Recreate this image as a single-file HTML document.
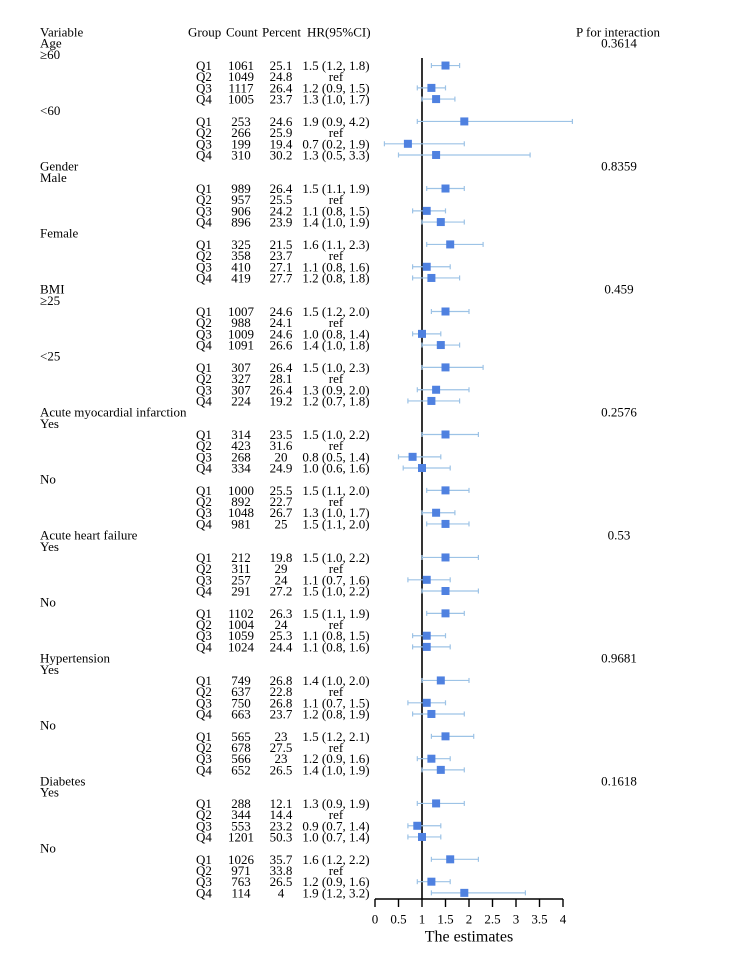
<!DOCTYPE html>
<html><head><meta charset="utf-8"><style>
html,body{margin:0;padding:0;background:#fff;}
svg{display:block;font-family:"Liberation Serif",serif;}
</style></head><body>
<svg id="chart" width="744" height="976" viewBox="0 0 744 976" xmlns="http://www.w3.org/2000/svg"></svg>
<script>
const variables = ["Age","Gender","BMI","Acute myocardial infarction","Acute heart failure","Hypertension","Diabetes"];
const subgroups = [["≥60","<60"],["Male","Female"],["≥25","<25"],["Yes","No"],["Yes","No"],["Yes","No"],["Yes","No"]];
const pValues = ["0.3614","0.8359","0.459","0.2576","0.53","0.9681","0.1618"];
const groups = ["Q1","Q2","Q3","Q4"];
const counts = [1061,1049,1117,1005, 253,266,199,310, 989,957,906,896, 325,358,410,419, 1007,988,1009,1091, 307,327,307,224, 314,423,268,334, 1000,892,1048,981, 212,311,257,291, 1102,1004,1059,1024, 749,637,750,663, 565,678,566,652, 288,344,553,1201, 1026,971,763,114];
const percents = ["25.1","24.8","26.4","23.7","24.6","25.9","19.4","30.2","26.4","25.5","24.2","23.9","21.5","23.7","27.1","27.7","24.6","24.1","24.6","26.6","26.4","28.1","26.4","19.2","23.5","31.6","20","24.9","25.5","22.7","26.7","25","19.8","29","24","27.2","26.3","24","25.3","24.4","26.8","22.8","26.8","23.7","23","27.5","23","26.5","12.1","14.4","23.2","50.3","35.7","33.8","26.5","4"];
const hr =    [1.5,null,1.2,1.3, 1.9,null,0.7,1.3, 1.5,null,1.1,1.4, 1.6,null,1.1,1.2, 1.5,null,1.0,1.4, 1.5,null,1.3,1.2, 1.5,null,0.8,1.0, 1.5,null,1.3,1.5, 1.5,null,1.1,1.5, 1.5,null,1.1,1.1, 1.4,null,1.1,1.2, 1.5,null,1.2,1.4, 1.3,null,0.9,1.0, 1.6,null,1.2,1.9];
const lower = [1.2,null,0.9,1.0, 0.9,null,0.2,0.5, 1.1,null,0.8,1.0, 1.1,null,0.8,0.8, 1.2,null,0.8,1.0, 1.0,null,0.9,0.7, 1.0,null,0.5,0.6, 1.1,null,1.0,1.1, 1.0,null,0.7,1.0, 1.1,null,0.8,0.8, 1.0,null,0.7,0.8, 1.2,null,0.9,1.0, 0.9,null,0.7,0.7, 1.2,null,0.9,1.2];
const upper = [1.8,null,1.5,1.7, 4.2,null,1.9,3.3, 1.9,null,1.5,1.9, 2.3,null,1.6,1.8, 2.0,null,1.4,1.8, 2.3,null,2.0,1.8, 2.2,null,1.4,1.6, 2.0,null,1.7,2.0, 2.2,null,1.6,2.2, 1.9,null,1.5,1.6, 2.0,null,1.5,1.9, 2.1,null,1.6,1.9, 1.9,null,1.4,1.4, 2.2,null,1.6,3.2];
const xTicks = [0,0.5,1,1.5,2,2.5,3,3.5,4];

const NS="http://www.w3.org/2000/svg";
const svg=document.getElementById('chart');
const x0=375, xScale=47;
function xPos(v){return x0+v*xScale;}
function yRow(i){return 32+11.18*i;}
function txt(s,x,y,anchor,size,name){
  const t=document.createElementNS(NS,'text');
  t.setAttribute('x',x);t.setAttribute('y',y+4.5);
  t.setAttribute('font-size',size||13);
  t.setAttribute('text-anchor',anchor||'start');
  t.setAttribute('fill','#000');
  
  
  t.textContent=s;svg.appendChild(t);return t;
}
function line(x1,y1,x2,y2,stroke,w,name){
  const l=document.createElementNS(NS,'line');
  l.setAttribute('x1',x1);l.setAttribute('y1',y1);l.setAttribute('x2',x2);l.setAttribute('y2',y2);
  l.setAttribute('stroke',stroke);l.setAttribute('stroke-width',w);
  
  
  svg.appendChild(l);return l;
}
txt("Variable",40,yRow(0),'start',13,'variable-header');
txt("Group",188,yRow(0),'start',13,'group-header');
txt("Count",226,yRow(0),'start',13,'count-header');
txt("Percent",262,yRow(0),'start',13,'percent-header');
txt("HR(95%CI)",307,yRow(0),'start',13,'hr-header');
txt("P for interaction",618,yRow(0),'middle',13,'p-interaction-header');

line(xPos(1),58,xPos(1),899,'#000',1.6,'reference-line');

let row=1, k=0;
for(let v=0;v<variables.length;v++){
  txt(variables[v],40,yRow(row),'start',13,'variable-label');
  txt(pValues[v],619,yRow(row),'middle',13,'p-value');
  row++;
  for(let s=0;s<2;s++){
    txt(subgroups[v][s],40,yRow(row),'start',13,'subgroup-label');
    row++;
    for(let g=0;g<4;g++){
      const y=yRow(row);
      txt(groups[g],196,y,'start',13,'group-label');
      txt(String(counts[k]),241,y,'middle',13,'count-value');
      txt(percents[k],281,y,'middle',13,'percent-value');
      const hs = hr[k]===null ? 'ref' : hr[k].toFixed(1)+' ('+lower[k].toFixed(1)+', '+upper[k].toFixed(1)+')';
      txt(hs,336,y,'middle',13,'hr-value');
      if(hr[k]!==null){
        const lx=xPos(lower[k]), ux=xPos(upper[k]);
        line(lx,y,ux,y,'#9dc3e6',1.2,'ci-line');
        line(lx,y-2.5,lx,y+2.5,'#9dc3e6',1.2,'ci-cap-low');
        line(ux,y-2.5,ux,y+2.5,'#9dc3e6',1.2,'ci-cap-high');
        const r=document.createElementNS(NS,'rect');
        r.setAttribute('x',xPos(hr[k])-4);r.setAttribute('y',y-4);
        r.setAttribute('width',8);r.setAttribute('height',8);
        r.setAttribute('fill','#4f81e0');
        
        
        svg.appendChild(r);
      }
      row++;k++;
    }
  }
}
line(xPos(0),899,xPos(4),899,'#000',1.6,'x-axis-line');
xTicks.forEach(t=>{
  line(xPos(t),899,xPos(t),907,'#000',1.4,'x-tick');
  txt(String(t),xPos(t),919,'middle',13,'x-tick-label');
});
txt("The estimates",xPos(2),937,'middle',16,'x-axis-title');
</script>
</body></html>
